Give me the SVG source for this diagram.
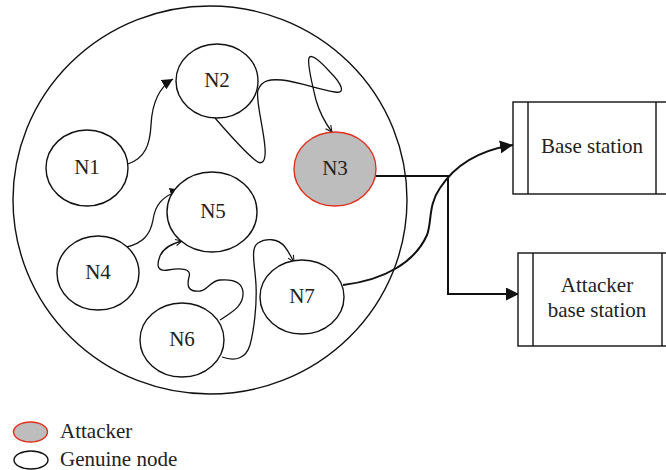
<svg xmlns="http://www.w3.org/2000/svg" width="666" height="470" viewBox="0 0 666 470">
<style>
text{font-family:"Liberation Serif","Times New Roman",serif;font-size:21px;fill:#222}
.n{fill:#fff;stroke:#111;stroke-width:1.4}
.a{fill:#bdbdbd;stroke:#e0301e;stroke-width:1.4}
.c{fill:none;stroke:#111;stroke-width:1.3}
.t{fill:none;stroke:#111;stroke-width:2}
.box{fill:#fff;stroke:#111;stroke-width:1.4}
</style>
<defs>
<marker id="fa" viewBox="0 0 10 10" refX="10" refY="5" markerWidth="11" markerHeight="11" markerUnits="userSpaceOnUse" orient="auto"><path d="M0,0 L10,5 L0,10 Z" fill="#111"/></marker>
<marker id="fb" viewBox="0 0 10 10" refX="10" refY="5" markerWidth="13" markerHeight="13" markerUnits="userSpaceOnUse" orient="auto"><path d="M0,0 L10,5 L0,10 Z" fill="#111"/></marker>
<marker id="oa" viewBox="0 0 10 10" refX="9" refY="5" markerWidth="8" markerHeight="8" markerUnits="userSpaceOnUse" orient="auto"><path d="M1,1 L9,5 L1,9" fill="none" stroke="#111" stroke-width="1.3"/></marker>
</defs>
<ellipse cx="210" cy="200" rx="197" ry="194" fill="none" stroke="#111" stroke-width="1.4"/>
<g id="connectors">
<path class="c" marker-end="url(#fa)" d="M128,164 C145,158 150,145 151,125 C152,105 158,88 173,79"/>
<path class="c" marker-end="url(#oa)" d="M215,118 C228,133 245,152 255,160 C262,166 266,162 265,148 C264,130 255,98 258,90 C262,80 270,79 282,80 C300,82 320,90 335,92 C346,94 342,84 330,72 C320,61 311,53 309,58 C307,64 312,84 316,100 C320,114 326,124 332,132"/>
<path class="c" marker-end="url(#fa)" d="M127,247 C142,243 150,236 153,220 C155,205 162,196 181,190"/>
<path class="c" marker-end="url(#oa)" d="M220,320 C232,312 244,306 243,292 C242,281 232,279 220,280 C210,281 208,290 200,291 C190,292 186,288 189,277 C192,268 180,268 168,270 C156,272 157,264 160,256 C163,249 170,244 182,241"/>
<path class="c" marker-end="url(#oa)" d="M222,357 C236,362 246,358 250,345 C254,330 257,305 256,285 C255,265 250,248 258,243 C266,238 278,238 285,247 C289,252 291,257 294,262"/>
<path class="t" d="M376,176 H448 V294 H508"/>
<path class="t" marker-end="url(#fb)" d="M448,294 H519"/>
<path class="t" marker-end="url(#fb)" d="M343,285 C385,280 415,262 427,235 C432,222 428,205 440,188 C455,165 480,150 513,145"/>
</g>
<g id="N1"><ellipse class="n" cx="87" cy="168" rx="41" ry="38"/><text x="87" y="174" text-anchor="middle">N1</text></g>
<g id="N2"><ellipse class="n" cx="217" cy="81" rx="41" ry="37"/><text x="217" y="87" text-anchor="middle">N2</text></g>
<g id="N3"><ellipse class="a" cx="335" cy="169" rx="41" ry="37"/><text x="335" y="175" text-anchor="middle">N3</text></g>
<g id="N4"><ellipse class="n" cx="98" cy="273" rx="41" ry="37"/><text x="98" y="279" text-anchor="middle">N4</text></g>
<g id="N5"><ellipse class="n" cx="212" cy="212" rx="45" ry="40"/><text x="213" y="218" text-anchor="middle">N5</text></g>
<g id="N6"><ellipse class="n" cx="182" cy="340" rx="42" ry="37"/><text x="182" y="346" text-anchor="middle">N6</text></g>
<g id="N7"><ellipse class="n" cx="302" cy="297" rx="42" ry="37"/><text x="302" y="303" text-anchor="middle">N7</text></g>
<g id="base-station"><rect class="box" x="513" y="102" width="170" height="92"/><line class="box" x1="528" y1="102" x2="528" y2="194"/><line class="box" x1="656" y1="102" x2="656" y2="194"/><text x="592" y="153" text-anchor="middle">Base station</text></g>
<g id="attacker-base-station"><rect class="box" x="518" y="253" width="170" height="93"/><line class="box" x1="533" y1="253" x2="533" y2="346"/><line class="box" x1="662" y1="253" x2="662" y2="346"/><text x="597" y="292" text-anchor="middle">Attacker</text><text x="597" y="317" text-anchor="middle">base station</text></g>
<g id="legend">
<ellipse class="a" cx="30.5" cy="432" rx="17" ry="10"/><text x="60" y="438">Attacker</text>
<ellipse class="n" cx="31" cy="460" rx="17" ry="9"/><text x="60" y="466">Genuine node</text>
</g>
</svg>
